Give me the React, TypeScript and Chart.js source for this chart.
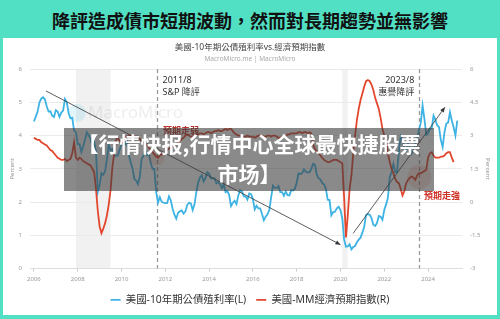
import React, { useEffect, useRef } from "react";
import { Chart, registerables } from "chart.js";

Chart.register(...registerables);

// ---------- data ----------
const START_YEAR = 2006; // monthly series start (Jan 2006)

// US 10Y Treasury yield, monthly (%), left axis
const yield10y = [
  4.42, 4.57, 4.72, 4.99, 5.11, 5.15, 5.09, 4.88, 4.72, 4.73, 4.6, 4.56,
  4.76, 4.72, 4.56, 4.69, 4.75, 5.1, 5.0, 4.67, 4.52, 4.53, 4.15, 4.1,
  3.74, 3.74, 3.51, 3.68, 3.88, 4.1, 4.01, 3.89, 3.69, 3.81, 3.53, 2.3,
  2.52, 2.87, 2.82, 2.93, 3.29, 3.72, 3.56, 3.59, 3.4, 3.39, 3.4, 3.59,
  3.73, 3.69, 3.73, 3.85, 3.42, 3.2, 3.01, 2.7, 2.65, 2.54, 2.76, 3.29,
  3.39, 3.58, 3.41, 3.46, 3.17, 3.0, 3.0, 2.3, 1.98, 2.15, 2.01, 1.98,
  1.97, 1.97, 2.17, 2.05, 1.8, 1.62, 1.5, 1.68, 1.72, 1.75, 1.65, 1.72,
  1.91, 1.98, 1.96, 1.76, 1.93, 2.3, 2.58, 2.74, 2.81, 2.62, 2.72, 2.9,
  2.86, 2.71, 2.72, 2.71, 2.56, 2.6, 2.54, 2.42, 2.53, 2.3, 2.33, 2.21,
  1.88, 1.98, 2.04, 1.94, 2.2, 2.36, 2.32, 2.17, 2.17, 2.07, 2.26, 2.24,
  2.09, 1.78, 1.89, 1.81, 1.81, 1.64, 1.45, 1.56, 1.63, 1.76, 2.14, 2.49,
  2.43, 2.42, 2.48, 2.3, 2.3, 2.19, 2.32, 2.21, 2.2, 2.36, 2.35, 2.4,
  2.58, 2.86, 2.84, 2.87, 2.98, 2.91, 2.89, 2.89, 3.0, 3.15, 3.12, 2.83,
  2.71, 2.68, 2.57, 2.53, 2.4, 2.07, 2.06, 1.6, 1.7, 1.71, 1.81, 1.86,
  1.76, 1.5, 0.87, 0.66, 0.67, 0.73, 0.58, 0.65, 0.68, 0.79, 0.87, 0.93,
  1.08, 1.26, 1.61, 1.64, 1.62, 1.52, 1.32, 1.28, 1.37, 1.58, 1.56, 1.47,
  1.76, 1.93, 2.13, 2.75, 2.9, 3.14, 2.9, 2.9, 3.52, 3.98, 3.89, 3.62,
  3.53, 3.75, 3.66, 3.46, 3.57, 3.75, 3.9, 4.17, 4.38, 4.9, 4.5, 4.02,
  4.06, 4.21, 4.21, 4.6, 4.48, 4.31, 4.25, 3.87, 3.65, 4.1, 4.36, 4.39,
  4.7, 4.45, 4.25, 4.0, 4.45,
];

// MacroMicro economic expectations index, monthly, right axis
const mmIndex = [
  2.9, 2.85, 2.8, 2.8, 2.7, 2.65, 2.6, 2.55, 2.45, 2.35, 2.3, 2.2,
  2.1, 2.0, 1.95, 1.9, 1.9, 1.95, 1.85, 1.9, 1.95, 2.2, 2.7, 2.0,
  1.9, 2.0, 1.95, 1.85, 1.8, 1.75, 1.7, 1.65, 1.5, 1.35, 0.6, -0.4,
  -1.1, -1.4, -1.2, -0.95, -0.6, -0.1, 0.55, 1.6, 2.2, 2.8, 2.9, 2.75,
  2.65, 2.7, 2.9, 2.95, 3.0, 3.0, 3.0, 2.95, 2.95, 2.95, 2.85, 2.75,
  2.7, 2.65, 2.55, 2.45, 2.35, 2.25, 2.15, 2.05, 2.0, 2.1, 2.15, 2.2,
  2.25, 2.35, 2.4, 2.45, 2.5, 2.55, 2.6, 2.7, 2.75, 2.85, 2.9, 3.0,
  3.05, 3.0, 2.95, 2.95, 3.0, 3.05, 3.05, 3.1, 3.1, 3.05, 3.1, 3.15,
  3.15, 3.1, 3.15, 3.2, 3.2, 3.25, 3.2, 3.2, 3.25, 3.3, 3.25, 3.3,
  3.3, 3.2, 3.1, 3.05, 3.0, 3.0, 2.95, 2.95, 2.95, 3.0, 2.95, 2.95,
  2.95, 2.9, 2.95, 3.0, 3.0, 3.0, 2.95, 2.95, 3.0, 3.0, 2.95, 3.0,
  3.0, 2.95, 2.9, 2.9, 2.95, 2.95, 3.0, 3.05, 3.05, 3.1, 3.1, 3.1,
  3.1, 3.15, 3.15, 3.1, 3.15, 3.15, 3.1, 3.15, 3.1, 2.6, 2.4, 2.3,
  2.2, 2.1, 2.0, 1.9, 1.85, 1.8, 1.8, 1.85, 1.9, 1.9, 1.9, 1.85,
  1.8, 1.75, 0.2, -1.6, -0.6, 0.6, 1.2, 2.2, 3.0, 3.7, 4.2, 4.6,
  4.9, 5.2, 5.45, 5.5, 5.45, 5.3, 5.05, 4.7, 4.45, 4.2, 3.8, 3.3,
  3.0, 2.75, 2.2, 1.8, 1.5, 1.3, 1.05, 0.9, 0.85, 0.6, 0.3, 0.5,
  0.85, 1.0, 1.1, 1.15, 1.1, 1.0, 1.2, 1.3, 1.3, 1.35, 1.4, 1.45,
  2.0, 2.2, 2.25, 2.1, 2.0, 2.0, 2.0, 2.05, 2.05, 2.1, 2.2, 2.25,
  2.25, 2.0, 1.8,
];

const xTicks = [2006, 2008, 2010, 2012, 2014, 2016, 2018, 2020, 2022, 2024];
const xRange = [2005.82, 2025.55];
const leftRange = [0, 6];
const rightRange = [-3, 6];

const recessions = [
  [2007.92, 2009.5],
  [2020.08, 2020.33],
];

const events = [
  { x: 2011.6, y: 2.0, lines: ["2011/8", "S&P 降評"], side: "right" },
  { x: 2023.6, y: 1.13, lines: ["2023/8", "惠譽降評"], side: "left" },
];

const trendDown = [
  { x: 2006.55, y: 5.34 },
  { x: 2020.0, y: 0.72 },
];
const trendUp = [
  { x: 2020.58, y: 1.06 },
  { x: 2024.77, y: 4.85 },
];

const notes = [
  { text: "預期走弱", x: 2011.89, y: 3.18, color: "#b8342a" },
  { text: "預期走強", x: 2023.82, y: 0.25, color: "#d0352a" },
];

const BLUE = "#3db3e4";
const RED = "#e2472d";
const FONT = '"Noto Sans", "Noto Sans CJK TC", sans-serif';

const overlayPlugin = {
  id: "mmAnnotations",
  beforeDraw(chart: any) {
    const { ctx, chartArea: a, scales } = chart;
    const x = scales.x;
    ctx.save();
    ctx.fillStyle = "#f1f1f1";
    recessions.forEach(([s, e]) => {
      const x1 = x.getPixelForValue(s);
      const x2 = x.getPixelForValue(e);
      ctx.fillRect(x1, a.top, x2 - x1, a.bottom - a.top);
    });
    ctx.restore();
  },
  beforeDatasetsDraw(chart: any) {
    const { ctx, chartArea: a, scales } = chart;
    const x = scales.x;
    ctx.save();
    // watermark
    const wx = a.left + 47;
    const wy = a.top + 44;
    ctx.fillStyle = "rgba(90,200,225,0.18)";
    ctx.beginPath();
    ctx.arc(wx, wy, 9, 0, Math.PI * 2);
    ctx.fill();
    ctx.font = `17px ${FONT}`;
    ctx.fillStyle = "rgba(0,0,0,0.07)";
    ctx.textBaseline = "middle";
    ctx.textAlign = "left";
    ctx.fillText("MacroMicro", wx + 11, wy);
    // dashed event lines
    ctx.setLineDash([4, 3]);
    ctx.strokeStyle = "#9a9a9a";
    ctx.lineWidth = 1.3;
    events.forEach((ev) => {
      const px = Math.round(x.getPixelForValue(ev.x)) + 0.5;
      ctx.beginPath();
      ctx.moveTo(px, a.top);
      ctx.lineTo(px, a.bottom);
      ctx.stroke();
    });
    ctx.restore();
  },
  afterDatasetsDraw(chart: any) {
    const { ctx, chartArea: a, scales } = chart;
    const x = scales.x;
    const yR = scales.yR;
    ctx.save();
    // highlight circles on red series at event dates
    ctx.fillStyle = "rgba(226,71,45,0.16)";
    events.forEach((ev, i) => {
      ctx.beginPath();
      ctx.arc(x.getPixelForValue(ev.x), yR.getPixelForValue(ev.y), i === 0 ? 8 : 12, 0, Math.PI * 2);
      ctx.fill();
    });
    // arrowheads for trend lines
    chart.data.datasets.forEach((ds: any, i: number) => {
      if (!ds.arrow) return;
      const pts = chart.getDatasetMeta(i).data;
      const p1 = pts[pts.length - 2];
      const p2 = pts[pts.length - 1];
      const ang = Math.atan2(p2.y - p1.y, p2.x - p1.x);
      const L = 5;
      const W = 2.2;
      ctx.fillStyle = "#333";
      ctx.beginPath();
      ctx.moveTo(p2.x, p2.y);
      ctx.lineTo(p2.x - L * Math.cos(ang) + W * Math.sin(ang), p2.y - L * Math.sin(ang) - W * Math.cos(ang));
      ctx.lineTo(p2.x - L * Math.cos(ang) - W * Math.sin(ang), p2.y - L * Math.sin(ang) + W * Math.cos(ang));
      ctx.closePath();
      ctx.fill();
    });
    // event texts
    ctx.font = `9px ${FONT}`;
    ctx.fillStyle = "#333";
    ctx.textBaseline = "middle";
    events.forEach((ev) => {
      const px = x.getPixelForValue(ev.x);
      ctx.textAlign = ev.side === "right" ? "left" : "right";
      const tx = ev.side === "right" ? px + 6 : px - 5;
      ev.lines.forEach((t, j) => ctx.fillText(t, tx, a.top + 11 + j * 12));
    });
    // expectation notes
    ctx.font = `bold 9px ${FONT}`;
    ctx.textAlign = "left";
    notes.forEach((n) => {
      ctx.fillStyle = n.color;
      ctx.fillText(n.text, x.getPixelForValue(n.x), yR.getPixelForValue(n.y));
    });
    ctx.restore();
  },
};

export default function App() {
  const ref = useRef<HTMLCanvasElement | null>(null);

  useEffect(() => {
    if (!ref.current) return;
    Chart.defaults.font.family = FONT;
    const chart = new Chart(ref.current, {
      type: "line",
      data: {
        datasets: [
          {
            label: "美國-10年期公債殖利率(L)",
            data: yield10y.map((v, i) => ({ x: START_YEAR + i / 12, y: v })),
            borderColor: BLUE,
            backgroundColor: BLUE,
            borderWidth: 1.8,
            pointRadius: 0,
            tension: 0,
            yAxisID: "yL",
            order: 3,
          },
          {
            label: "美國-MM經濟預期指數(R)",
            data: mmIndex.map((v, i) => ({ x: START_YEAR + i / 12, y: v })),
            borderColor: RED,
            backgroundColor: RED,
            borderWidth: 1.8,
            pointRadius: 0,
            tension: 0,
            yAxisID: "yR",
            order: 2,
          },
          {
            label: "trendDown",
            data: trendDown,
            borderColor: "#333",
            borderWidth: 0.8,
            pointRadius: 0,
            yAxisID: "yL",
            order: 1,
            arrow: true,
          } as any,
          {
            label: "trendUp",
            data: trendUp,
            borderColor: "#333",
            borderWidth: 0.8,
            pointRadius: 0,
            yAxisID: "yL",
            order: 1,
            arrow: true,
          } as any,
        ],
      },
      options: {
        animation: false,
        responsive: false,
        layout: { padding: 0 },
        plugins: {
          title: {
            display: true,
            text: "美國-10年期公債殖利率vs.經濟預期指數",
            color: "#444",
            font: { size: 8.5, weight: "normal" },
            padding: { top: 4, bottom: 0 },
          },
          subtitle: {
            display: true,
            text: "MacroMicro.me | MacroMicro",
            color: "#aaa",
            font: { size: 6.5 },
            padding: { top: 3, bottom: 6 },
          },
          legend: {
            position: "bottom",
            labels: {
              filter: (item: any) => item.datasetIndex < 2,
              sort: (a: any, b: any) => a.datasetIndex - b.datasetIndex,
              usePointStyle: true,
              pointStyle: "line",
              pointStyleWidth: 10,
              boxHeight: 2,
              font: { size: 10.4 },
              color: "#333",
              padding: 10,
            },
          },
          tooltip: { enabled: false },
        },
        scales: {
          x: {
            type: "linear",
            min: xRange[0],
            max: xRange[1],
            afterBuildTicks: (s: any) => {
              s.ticks = xTicks.map((v) => ({ value: v }));
            },
            afterFit: (s: any) => {
              s.height = 16;
            },
            ticks: {
              font: { size: 6 },
              color: "#999",
              padding: 4,
              maxRotation: 0,
              autoSkip: false,
              callback: (v: any) => String(v),
            },
            grid: { drawOnChartArea: false, drawTicks: true, tickLength: 3, color: "#ccc" },
            border: { display: true, color: "#ddd" },
          },
          yL: {
            position: "left",
            min: leftRange[0],
            max: leftRange[1],
            afterFit: (s: any) => {
              s.width = 27;
            },
            ticks: { stepSize: 1, font: { size: 6 }, color: "#999", padding: 8, callback: (v: any) => String(v) },
            grid: { color: "#ebebeb", drawTicks: false },
            border: { display: false },
            title: { display: true, text: "Percent", color: "#999", font: { size: 6 }, padding: { top: 6, bottom: 0 } },
          },
          yR: {
            position: "right",
            min: rightRange[0],
            max: rightRange[1],
            afterFit: (s: any) => {
              s.width = 35;
            },
            ticks: { stepSize: 1.5, font: { size: 6 }, color: "#999", padding: 8, callback: (v: any) => String(v) },
            grid: { drawOnChartArea: false, drawTicks: false },
            border: { display: false },
            title: { display: true, text: "Percent", color: "#999", font: { size: 6 }, padding: { top: 6, bottom: 0 } },
          },
        },
      } as any,
      plugins: [overlayPlugin],
    });
    return () => chart.destroy();
  }, []);

  return (
    <div
      style={{
        position: "fixed",
        left: 0,
        top: 0,
        width: 500,
        height: 319,
        background: "#52e0c4",
        overflow: "hidden",
      }}
    >
      <div
        style={{
          position: "absolute",
          left: 0,
          top: 0,
          width: 500,
          height: 38,
          paddingTop: 2,
          boxSizing: "border-box",
          display: "flex",
          alignItems: "center",
          justifyContent: "center",
          fontFamily: '"Noto Sans CJK TC", sans-serif',
          fontWeight: 700,
          fontSize: 18,
          color: "#111",
          whiteSpace: "nowrap",
        }}
      >
        降評造成債市短期波動，然而對長期趨勢並無影響
      </div>
      <div
        style={{
          position: "absolute",
          left: 3,
          top: 38,
          width: 494,
          height: 277,
          background: "#fff",
        }}
      >
        <canvas ref={ref} width={494} height={277} style={{ width: 494, height: 277, display: "block" }} />
      </div>
      <div
        style={{
          position: "absolute",
          left: 64,
          top: 128,
          width: 370,
          height: 63,
          background: "rgba(60,60,60,0.6)",
          color: "#fff",
          fontFamily: '"Noto Sans CJK SC", sans-serif',
          fontWeight: 700,
          fontSize: 21,
          lineHeight: "30px",
          textAlign: "center",
          whiteSpace: "nowrap",
        }}
      >
        【行情快报,行情中心全球最快捷股票
        <br />
        市场】
      </div>
    </div>
  );
}
